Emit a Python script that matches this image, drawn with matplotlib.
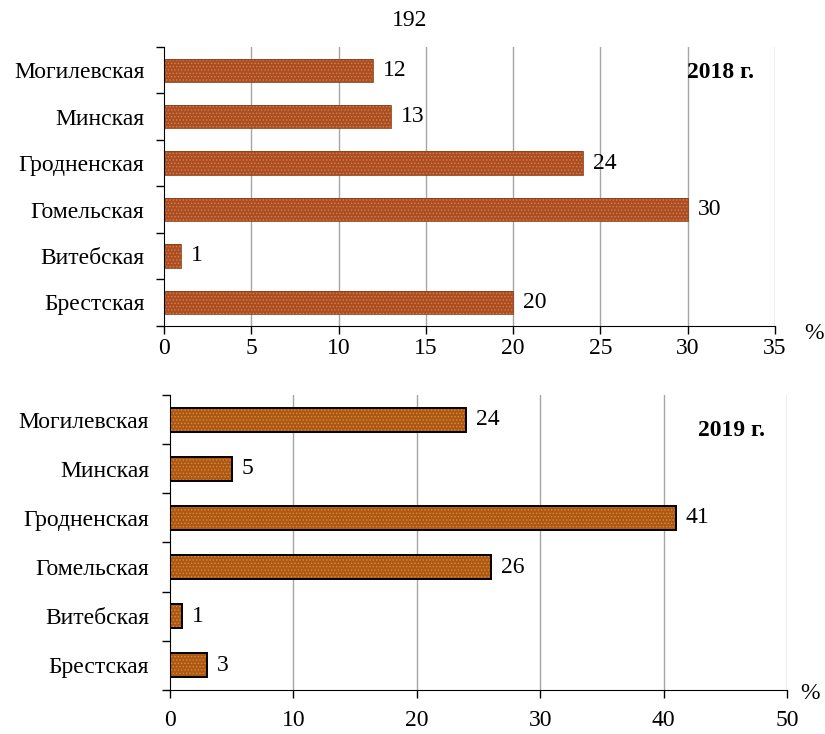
import matplotlib.pyplot as plt
import numpy as np

plt.rcParams['font.family'] = ['Liberation Serif', 'DejaVu Serif']
plt.rcParams['hatch.linewidth'] = 0.6

regions = ['Брестская', 'Витебская', 'Гомельская', 'Гродненская', 'Минская', 'Могилевская']
share_2018 = [20, 1, 30, 24, 13, 12]
share_2019 = [3, 1, 26, 41, 5, 24]

grid_color = '#A6A6A6'

fig = plt.figure(figsize=(8.25, 7.34), dpi=100)
ax1 = fig.add_axes([0.1988, 0.5564, 0.7406, 0.3796])
ax2 = fig.add_axes([0.2061, 0.0606, 0.7479, 0.4006])


def draw_panel(ax, values, xmax, step, year_label, year_y, outlined, xpad, ypad, fill, dots):
    y = np.arange(len(regions))
    # textured fill, then the outline on top
    ax.barh(y, values, height=0.5, color=fill, edgecolor=dots,
            hatch='.....', linewidth=0, zorder=3)
    ax.barh(y, values, height=0.5, fill=False,
            edgecolor='black' if outlined else '#8E3F1C',
            linewidth=1.4 if outlined else 0.6, zorder=4)
    for yi, v in zip(y, values):
        ax.text(v + xmax * 0.016, yi, str(v), va='center', ha='left', fontsize=17, zorder=5)

    ax.set_xlim(0, xmax)
    ax.set_ylim(-0.5, len(regions) - 0.5)
    ax.set_xticks(np.arange(0, xmax + 1, step))
    ax.tick_params(axis='x', labelsize=17, length=6, width=1, direction='out', pad=xpad)
    for gx in np.arange(step, xmax + 1, step):
        ax.axvline(gx, color=grid_color, linewidth=1, zorder=1)

    ax.set_yticks(y)
    ax.set_yticklabels(regions)
    ax.set_yticks(np.arange(-0.5, len(regions), 1), minor=True)
    ax.tick_params(axis='y', which='major', length=0, labelsize=17, pad=ypad)
    ax.tick_params(axis='y', which='minor', length=6, width=1, direction='out')

    for side in ['top', 'right']:
        ax.spines[side].set_visible(False)
    ax.spines['left'].set_zorder(6)
    ax.spines['bottom'].set_zorder(6)

    ax.text(0.965, year_y, year_label, transform=ax.transAxes, ha='right', va='center',
            fontsize=17, fontweight='bold')


draw_panel(ax1, share_2018, 35, 5, '2018 г.', 0.91, outlined=False, xpad=3, ypad=14,
           fill='#AC4E22', dots='#D0804E')
draw_panel(ax2, share_2019, 50, 10, '2019 г.', 0.88, outlined=True, xpad=9, ypad=15,
           fill='#AE5812', dots='#D28C45')

fig.text(0.497, 0.972, '192', ha='center', va='center', fontsize=17)
fig.text(0.987, 0.546, '%', ha='center', va='center', fontsize=17)
fig.text(0.982, 0.055, '%', ha='center', va='center', fontsize=17)

fig.savefig('out.png', dpi=100)
